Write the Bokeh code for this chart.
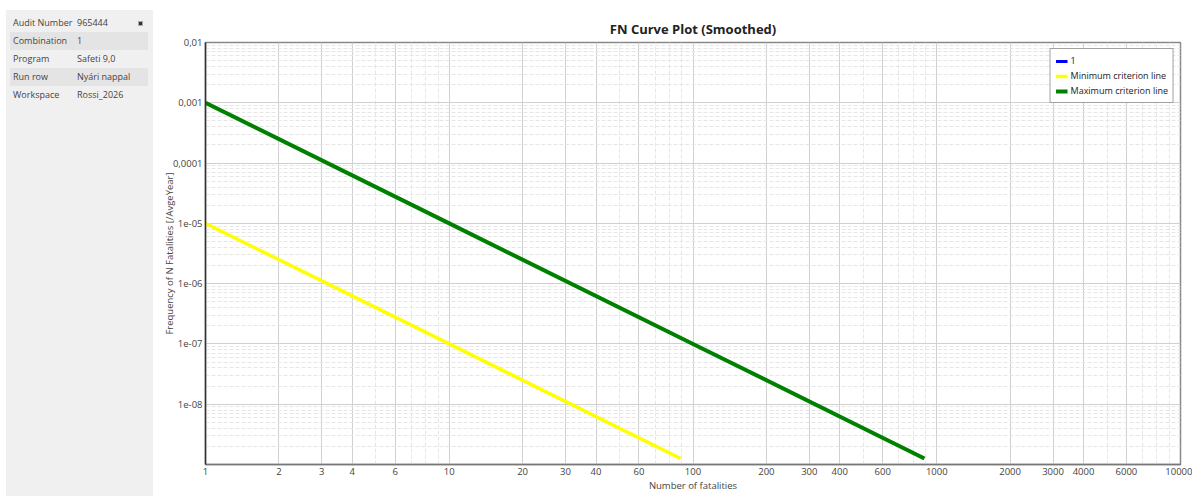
import numpy as np
from bokeh.plotting import figure
from bokeh.models import FixedTicker, CustomJSTickFormatter, Range1d, Div
from bokeh.layouts import row
from bokeh.embed import file_html
from bokeh.resources import INLINE

# ---- data ----
info_keys = ["Audit Number", "Combination", "Program", "Run row", "Workspace"]
info_vals = ["965444", "1", "Safeti 9,0", "Nyári nappal", "Rossi_2026"]

series_names = ["1", "Minimum criterion line", "Maximum criterion line"]
series_colors = ["#0000ff", "#ffff00", "#008000"]

# series "1" has no value inside the plotted range
n_series1 = np.array([np.nan])
f_series1 = np.array([np.nan])
n_min = [1, 10, 89]
f_min = [1e-5, 1e-7, 1.26e-9]
n_max = [1, 10, 100, 890]
f_max = [1e-3, 1e-5, 1e-7, 1.26e-9]

x_major = [1, 2, 3, 4, 6, 10, 20, 30, 40, 60, 100, 200, 300, 400, 600,
           1000, 2000, 3000, 4000, 6000, 10000]
x_minor = [5, 7, 8, 9, 50, 70, 80, 90, 500, 700, 800, 900, 5000, 7000, 8000, 9000]
y_major = [1e-2, 1e-3, 1e-4, 1e-5, 1e-6, 1e-7, 1e-8]
y_minor = [m * 10.0 ** e for e in range(-9, -2) for m in range(2, 10)]

FONT = "Open Sans"
TXT = "#444444"
H = 496

# ---- sidebar ----
rows_html = ""
for i, (k, v) in enumerate(zip(info_keys, info_vals)):
    bg = "#e4e4e4" if i % 2 == 1 else "#f0f0f0"
    icon = ""
    if i == 0:
        icon = ('<span style="display:inline-block;width:5px;height:5px;'
                'background:#333;border:1px solid #aaa"></span>')
    rows_html += (
        f'<tr style="height:18px;background:{bg}">'
        f'<td style="width:67px;padding:0 0 0 3px;white-space:nowrap;overflow:hidden">{k}</td>'
        f'<td style="width:56px;padding:0;white-space:nowrap;overflow:hidden">{v}</td>'
        f'<td style="padding:0;text-align:center;vertical-align:middle">{icon}</td></tr>'
    )
side_html = (
    f'<div style="background:#f0f0f0;width:147px;height:{H - 10}px;margin:10px 0 0 6px;'
    f'box-sizing:border-box;padding-top:4px;padding-left:4px;'
    f'font-family:\'{FONT}\';font-size:9px;color:{TXT}">'
    f'<table style="border-collapse:collapse;table-layout:fixed;width:138px">{rows_html}</table></div>'
)
side = Div(text=side_html, width=153, height=H, margin=0)

# ---- chart ----
p = figure(width=1039, height=H, x_axis_type="log", y_axis_type="log",
           x_range=Range1d(1, 10000), y_range=Range1d(1e-9, 1e-2),
           output_backend="svg", toolbar_location=None,
           min_border_left=52, min_border_right=12, min_border_top=42,
           min_border_bottom=32, title="FN Curve Plot (Smoothed)")

p.title.align = "center"
p.title.text_font = FONT
p.title.text_font_size = "13px"
p.title.text_font_style = "bold"
p.title.text_color = "#222222"

xt = FixedTicker(ticks=x_major, minor_ticks=x_minor)
yt = FixedTicker(ticks=y_major, minor_ticks=y_minor)
p.xaxis.ticker = xt
p.yaxis.ticker = yt
p.xgrid.ticker = xt
p.ygrid.ticker = yt

p.xaxis.formatter = CustomJSTickFormatter(code="return String(Math.round(tick));")
p.yaxis.formatter = CustomJSTickFormatter(code="""
const e = Math.round(Math.log10(tick));
if (e >= -4) { return "0," + "0".repeat(-e - 1) + "1"; }
return "1e-" + String(-e).padStart(2, "0");
""")

for ax in (p.xaxis, p.yaxis):
    ax.major_tick_out = 0
    ax.major_tick_in = 0
    ax.minor_tick_out = 0
    ax.minor_tick_in = 0
    ax.major_label_text_font = FONT
    ax.major_label_text_font_size = "9.5px"
    ax.major_label_text_color = TXT
    ax.major_label_standoff = 3
    ax.axis_label_text_font = FONT
    ax.axis_label_text_font_size = "9.5px"
    ax.axis_label_text_font_style = "normal"
    ax.axis_label_text_color = TXT
    ax.axis_line_color = "#333333"
    ax.axis_line_width = 1.5

p.xaxis.axis_label_standoff = 1
p.yaxis.axis_label_standoff = -6
p.xaxis.axis_label = "Number of fatalities"
p.yaxis.axis_label = "Frequency of N Fatalities [/AvgeYear]"
p.xaxis.axis_line_color = "#777777"

p.xgrid.grid_line_color = "#d0d0d0"
p.ygrid.grid_line_color = "#d0d0d0"
p.xgrid.minor_grid_line_color = "#e6e6e6"
p.ygrid.minor_grid_line_color = "#e6e6e6"
p.xgrid.minor_grid_line_dash = "4 2"
p.ygrid.minor_grid_line_dash = "4 2"

p.outline_line_color = "#888888"
p.outline_line_width = 1.5
p.background_fill_color = "white"
p.border_fill_color = "white"

p.line(n_series1, f_series1, color=series_colors[0], line_width=3, legend_label=series_names[0])
p.line(n_min, f_min, color=series_colors[1], line_width=3.5, legend_label=series_names[1])
p.line(n_max, f_max, color=series_colors[2], line_width=4, legend_label=series_names[2])

lg = p.legend[0]
lg.location = "top_right"
lg.label_text_font = FONT
lg.label_text_font_size = "9px"
lg.label_text_color = "#222222"
lg.glyph_width = 12
lg.glyph_height = 10
lg.label_height = 10
lg.label_standoff = 3
lg.spacing = 2
lg.padding = 5
lg.margin = 6
lg.border_line_color = "#444444"
lg.border_line_width = 1.5
lg.background_fill_color = "white"
lg.background_fill_alpha = 1

layout = row(side, p)
open("out.html", "w").write(file_html(layout, INLINE))
